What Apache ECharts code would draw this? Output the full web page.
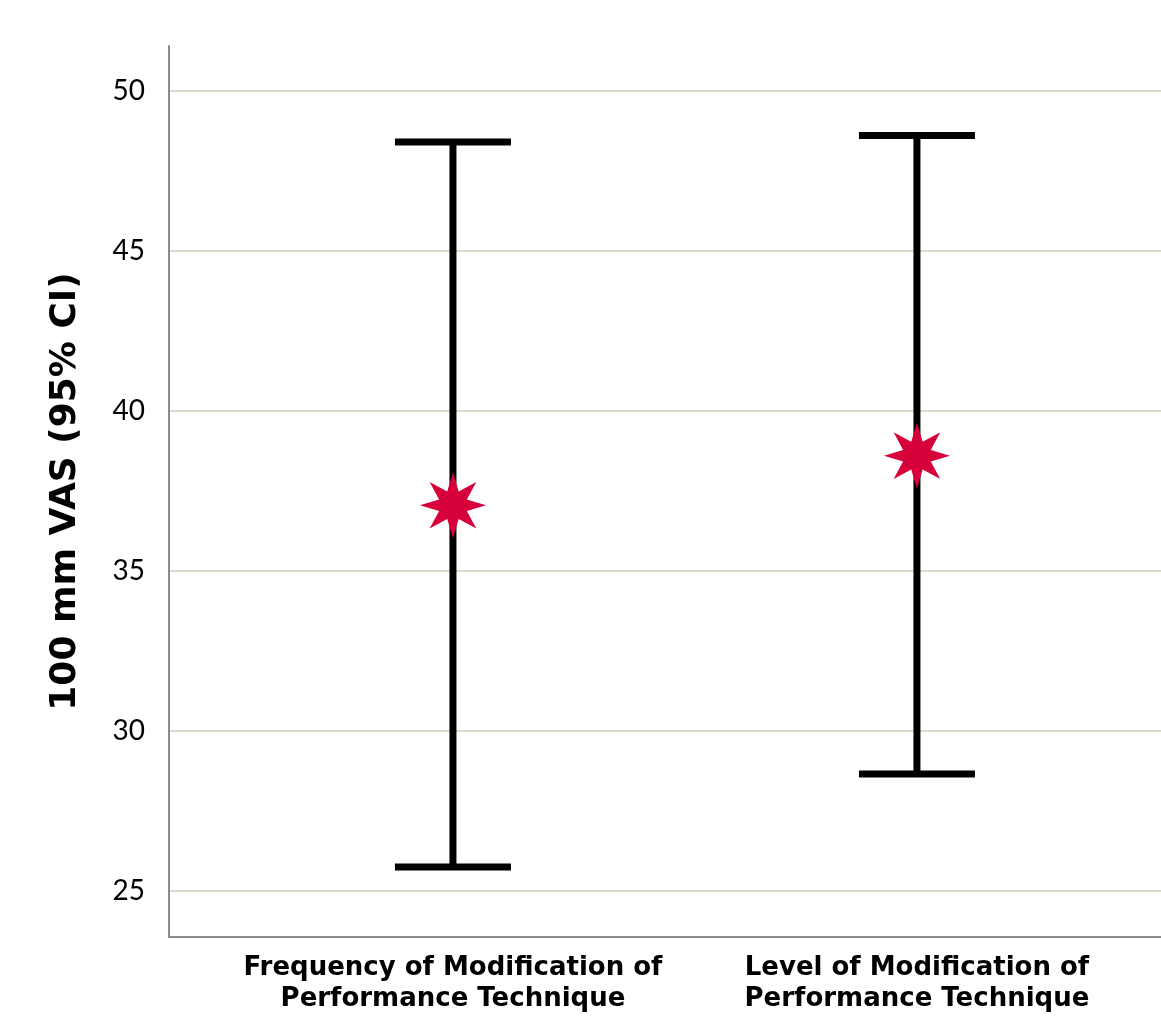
<!DOCTYPE html>
<html><head><meta charset="utf-8">
<script src="https://cdn.jsdelivr.net/npm/echarts@6/dist/echarts.min.js"></script>
<style>html,body{margin:0;padding:0;background:#fff}#c{width:1161px;height:1017px}</style>
</head><body><div id="c"></div>
<script>
const categories = ['Frequency of Modification of\nPerformance Technique', 'Level of Modification of\nPerformance Technique'];
const means = [37.05, 38.6];
const lowerCI = [25.75, 28.65];
const upperCI = [48.4, 48.6];
const yTicks = [25, 30, 35, 40, 45, 50];

// 8-point star path
function starPath(n, ro, ri) {
  let p = '';
  for (let i = 0; i < 2 * n; i++) {
    const r = i % 2 === 0 ? ro : ri;
    const a = -Math.PI / 2 + i * Math.PI / n;
    p += (i === 0 ? 'M' : 'L') + (r * Math.cos(a)).toFixed(2) + ' ' + (r * Math.sin(a)).toFixed(2);
  }
  return 'path://' + p + 'Z';
}

const xPos = categories.map((c, i) => i + 1);
const barData = xPos.map((x, i) => [x, lowerCI[i], upperCI[i]]);
const meanData = xPos.map((x, i) => [x, means[i]]);

const chart = echarts.init(document.getElementById('c'));
chart.setOption({
  animation: false,
  grid: { left: 169, right: 0, top: 46, bottom: 80 },
  xAxis: {
    type: 'value', min: 0.388, max: 2.526,
    axisLine: { show: true, onZero: false, lineStyle: { color: '#8c8c8c', width: 2 } },
    axisTick: { show: false, customValues: xPos },
    splitLine: { show: false },
    axisLabel: {
      customValues: xPos,
      formatter: v => categories[Math.round(v) - 1] || '',
      fontFamily: 'DejaVu Sans', fontWeight: 'bold', fontSize: 26, color: '#000',
      lineHeight: 31, margin: 16
    }
  },
  yAxis: {
    type: 'value', min: 23.56, max: 51.4,
    name: '100 mm VAS (95% CI)', nameLocation: 'middle', nameGap: 85,
    nameTextStyle: { fontFamily: 'DejaVu Sans', fontWeight: 'bold', fontSize: 36, color: '#000' },
    axisLine: { show: true, lineStyle: { color: '#8c8c8c', width: 2 } },
    axisTick: { show: false, customValues: yTicks },
    axisLabel: { customValues: yTicks, fontFamily: 'Lato', fontSize: 28, color: '#000', margin: 24 },
    splitLine: { show: true, lineStyle: { color: '#dcdacb', width: 2 } }
  },
  series: [
    {
      type: 'custom',
      data: barData,
      renderItem: function (params, api) {
        const x = api.value(0);
        const lo = api.coord([x, api.value(1)]);
        const hi = api.coord([x, api.value(2)]);
        const hw = 58;
        const st = { stroke: '#000', lineWidth: 7 };
        return {
          type: 'group',
          children: [
            { type: 'line', shape: { x1: lo[0], y1: lo[1], x2: hi[0], y2: hi[1] }, style: st },
            { type: 'line', shape: { x1: hi[0] - hw, y1: hi[1], x2: hi[0] + hw, y2: hi[1] }, style: st },
            { type: 'line', shape: { x1: lo[0] - hw, y1: lo[1], x2: lo[0] + hw, y2: lo[1] }, style: st }
          ]
        };
      },
      z: 2
    },
    {
      type: 'scatter',
      data: meanData,
      symbol: starPath(8, 33, 15),
      symbolSize: 66,
      itemStyle: { color: '#d6003a', opacity: 1 },
      z: 3
    }
  ]
});
</script></body></html>
